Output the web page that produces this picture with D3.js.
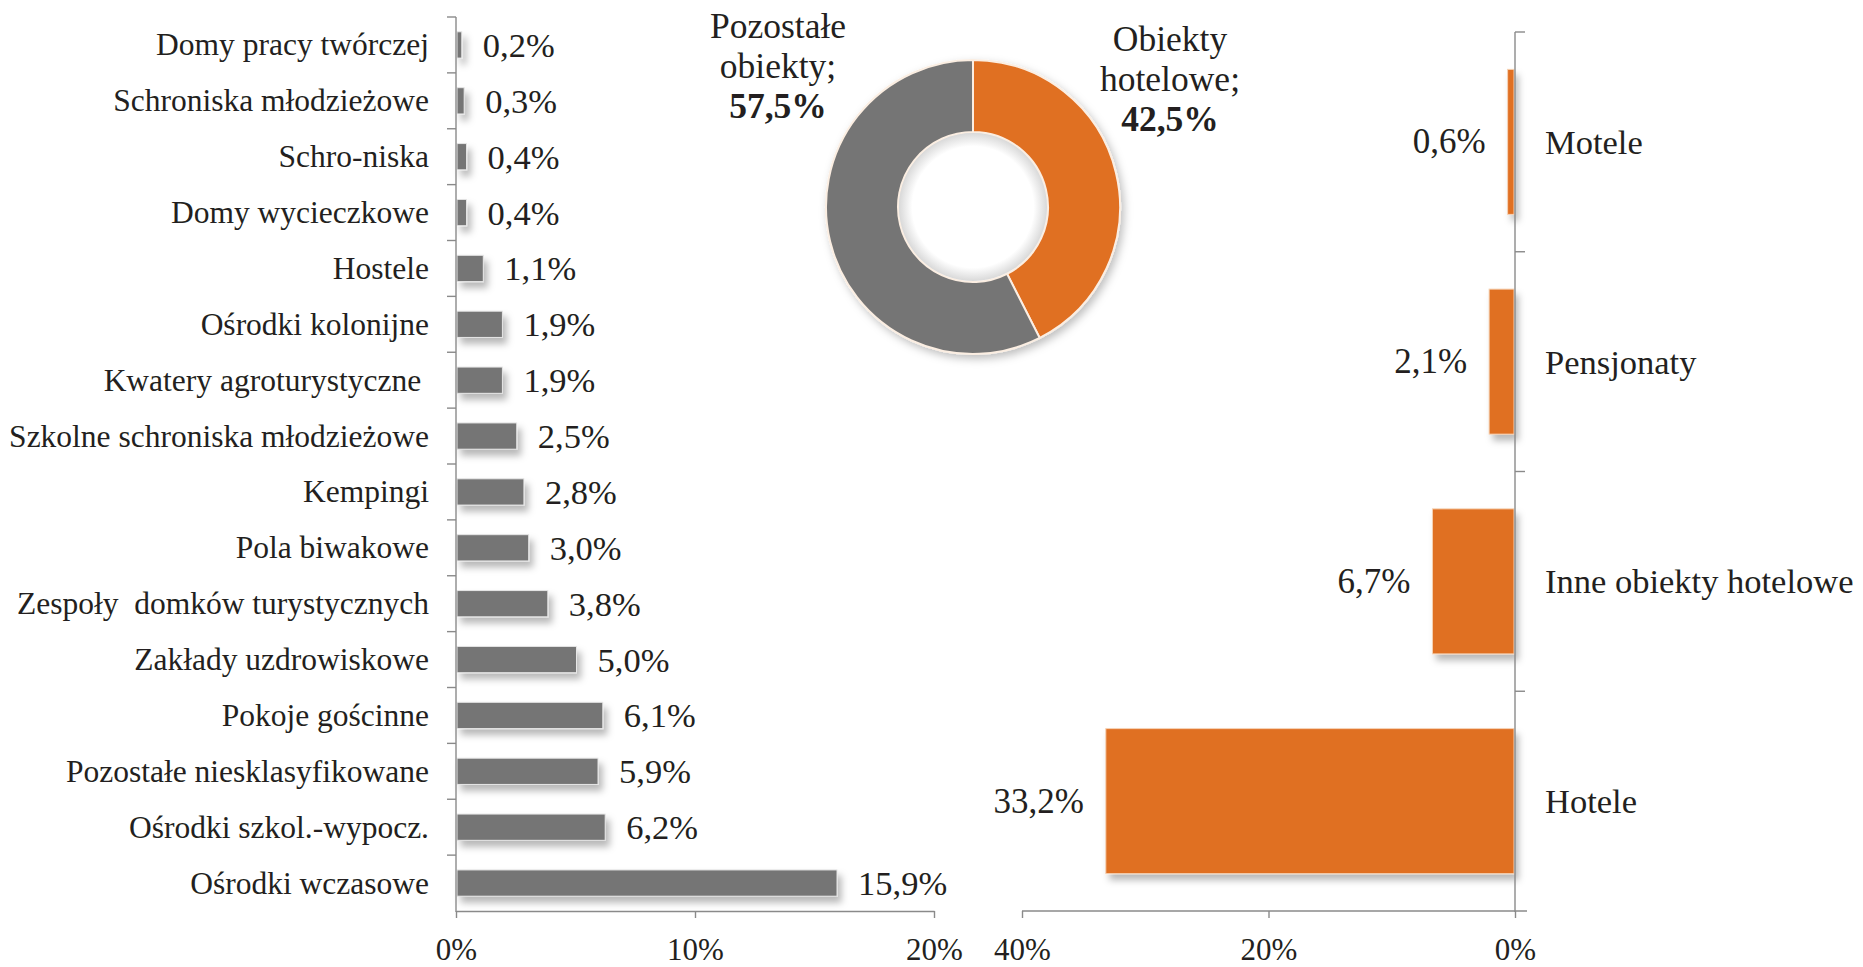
<!DOCTYPE html>
<html>
<head>
<meta charset="utf-8">
<title>Struktura obiektów noclegowych</title>
<script src="https://cdn.jsdelivr.net/npm/d3@7"></script>
<style>
  html, body { margin: 0; padding: 0; background: #ffffff; }
</style>
</head>
<body>
<svg id="chart" width="1863" height="967"></svg>
<script>
// Pozostałe obiekty (udział w %)
const otherCategories = [
  "Domy pracy twórczej", "Schroniska młodzieżowe", "Schro-niska", "Domy wycieczkowe",
  "Hostele", "Ośrodki kolonijne", "Kwatery agroturystyczne ", "Szkolne schroniska młodzieżowe",
  "Kempingi", "Pola biwakowe", "Zespoły  domków turystycznych", "Zakłady uzdrowiskowe",
  "Pokoje gościnne", "Pozostałe niesklasyfikowane", "Ośrodki szkol.-wypocz.", "Ośrodki wczasowe"
];
const otherValues = [0.2, 0.3, 0.4, 0.4, 1.1, 1.9, 1.9, 2.5, 2.8, 3.0, 3.8, 5.0, 6.1, 5.9, 6.2, 15.9];

// Obiekty hotelowe (udział w %)
const hotelCategories = ["Motele", "Pensjonaty", "Inne obiekty hotelowe", "Hotele"];
const hotelValues = [0.6, 2.1, 6.7, 33.2];

// Podział ogólny
const donutLabels = [["Obiekty", "hotelowe;"], ["Pozostałe", "obiekty;"]];
const donutValues = [42.5, 57.5];

const leftTicks = [0, 10, 20];
const rightTicks = [0, 20, 40];

const GREY = "#757575";
const ORANGE = "#e06f22";
const AXIS = "#8a8a8a";
const TEXT = "#231f20";
const FONT = "Liberation Serif";

const fmt = v => v.toFixed(1).replace(".", ",") + "%";

const svg = d3.select("#chart");

// Soft drop shadow used under bars and the ring
const defs = svg.append("defs");
const sh = defs.append("filter").attr("id", "shadow")
  .attr("x", "-20%").attr("y", "-30%").attr("width", "150%").attr("height", "180%");
sh.append("feDropShadow").attr("dx", 4).attr("dy", 6).attr("stdDeviation", 3.5)
  .attr("flood-color", "#000").attr("flood-opacity", 0.28);

const shRing = defs.append("filter").attr("id", "ringShadow")
  .attr("x", "-20%").attr("y", "-20%").attr("width", "140%").attr("height", "140%");
shRing.append("feDropShadow").attr("dx", 3).attr("dy", 4).attr("stdDeviation", 4)
  .attr("flood-color", "#000").attr("flood-opacity", 0.25);

// ---------- Left chart: other accommodation ----------
const xL = d3.scaleLinear().domain([0, 20]).range([456, 934]);
const yL = d3.scaleBand().domain(otherCategories).range([17, 911])
  .paddingInner(0.53).paddingOuter(0.265);

const left = svg.append("g");

left.append("g").attr("filter", "url(#shadow)")
  .selectAll("rect").data(otherCategories).join("rect")
  .attr("x", xL(0) + 1)
  .attr("y", d => yL(d))
  .attr("width", (d, i) => xL(otherValues[i]) - xL(0))
  .attr("height", yL.bandwidth())
  .attr("fill", GREY)
  .attr("stroke", "#e6e6e6").attr("stroke-width", 1);

// category axis: line plus ticks on the category boundaries
const stepL = yL.step();
const boundsL = d3.range(otherCategories.length + 1).map(i => 17 + i * stepL);
left.append("line").attr("x1", xL(0)).attr("x2", xL(0)).attr("y1", 17).attr("y2", 912)
  .attr("stroke", AXIS).attr("stroke-width", 1.4);
left.selectAll("line.tk").data(boundsL.slice(0, -1)).join("line").attr("class", "tk")
  .attr("x1", xL(0) - 9).attr("x2", xL(0)).attr("y1", d => d).attr("y2", d => d)
  .attr("stroke", AXIS).attr("stroke-width", 1.4);

left.selectAll("text.cat").data(otherCategories).join("text").attr("class", "cat")
  .attr("x", 429).attr("y", d => yL(d) + yL.bandwidth() / 2)
  .attr("text-anchor", "end").attr("dominant-baseline", "central")
  .style("font-family", FONT).style("font-size", "31.5px").style("white-space", "pre")
  .attr("fill", TEXT)
  .text(d => d);

left.selectAll("text.val").data(otherCategories).join("text").attr("class", "val")
  .attr("x", (d, i) => xL(otherValues[i]) + 22)
  .attr("y", d => yL(d) + yL.bandwidth() / 2)
  .attr("dominant-baseline", "central")
  .style("font-family", FONT).style("font-size", "34.5px")
  .attr("fill", TEXT)
  .text((d, i) => fmt(otherValues[i]));

const axL = left.append("g").attr("transform", "translate(0,911)")
  .call(d3.axisBottom(xL).tickValues(leftTicks).tickSize(7).tickSizeOuter(0).tickPadding(20)
    .tickFormat(d => d + "%"));
axL.attr("font-family", null);
axL.select(".domain").attr("stroke", AXIS).attr("stroke-width", 1.4);
axL.selectAll(".tick line").attr("stroke", AXIS).attr("stroke-width", 1.4);
axL.selectAll(".tick text").style("font-family", FONT).style("font-size", "31px").attr("fill", TEXT);

// ---------- Right chart: hotel accommodation ----------
const xR = d3.scaleLinear().domain([0, 40]).range([1515, 1022]);
const yR = d3.scaleBand().domain(hotelCategories).range([32, 911])
  .paddingInner(0.34).paddingOuter(0.17);

const right = svg.append("g");

right.append("g").attr("filter", "url(#shadow)")
  .selectAll("rect").data(hotelCategories).join("rect")
  .attr("x", (d, i) => xR(hotelValues[i]))
  .attr("y", d => yR(d))
  .attr("width", (d, i) => xR(0) - xR(hotelValues[i]) - 1)
  .attr("height", yR.bandwidth())
  .attr("fill", ORANGE)
  .attr("stroke", "#f6d2b4").attr("stroke-width", 1);

const stepR = yR.step();
const boundsR = d3.range(hotelCategories.length + 1).map(i => 32 + i * stepR);
right.append("line").attr("x1", xR(0)).attr("x2", xR(0)).attr("y1", 32).attr("y2", 912)
  .attr("stroke", AXIS).attr("stroke-width", 1.4);
right.selectAll("line.tk").data(boundsR.slice(0, -1)).join("line").attr("class", "tk")
  .attr("x1", xR(0)).attr("x2", xR(0) + 10).attr("y1", d => d).attr("y2", d => d)
  .attr("stroke", AXIS).attr("stroke-width", 1.4);

right.selectAll("text.cat").data(hotelCategories).join("text").attr("class", "cat")
  .attr("x", 1545).attr("y", d => yR(d) + yR.bandwidth() / 2)
  .attr("dominant-baseline", "central")
  .style("font-family", FONT).style("font-size", "34.5px")
  .attr("fill", TEXT)
  .text(d => d);

right.selectAll("text.val").data(hotelCategories).join("text").attr("class", "val")
  .attr("x", (d, i) => xR(hotelValues[i]) - 22)
  .attr("y", d => yR(d) + yR.bandwidth() / 2)
  .attr("text-anchor", "end").attr("dominant-baseline", "central")
  .style("font-family", FONT).style("font-size", "35px")
  .attr("fill", TEXT)
  .text((d, i) => fmt(hotelValues[i]));

const axR = right.append("g").attr("transform", "translate(0,911)")
  .call(d3.axisBottom(xR).tickValues(rightTicks).tickSize(7).tickSizeOuter(0).tickPadding(20)
    .tickFormat(d => d + "%"));
axR.attr("font-family", null);
axR.select(".domain").attr("stroke", AXIS).attr("stroke-width", 1.4)
  .attr("d", `M${xR(40)},0H${xR(0) + 12}`);
axR.selectAll(".tick line").attr("stroke", AXIS).attr("stroke-width", 1.4);
axR.selectAll(".tick text").style("font-family", FONT).style("font-size", "31px").attr("fill", TEXT);

// ---------- Donut: overall split ----------
const cx = 973, cy = 207, R = 147, r = 75;
const pie = d3.pie().sort(null).value(d => d);
const arc = d3.arc().innerRadius(r).outerRadius(R);
const donut = svg.append("g").attr("transform", `translate(${cx},${cy})`);
donut.append("g").attr("filter", "url(#ringShadow)")
  .selectAll("path").data(pie(donutValues)).join("path")
  .attr("d", arc)
  .attr("fill", (d, i) => i === 0 ? ORANGE : GREY)
  .attr("stroke", "#fbeee2").attr("stroke-width", 2);

// faint shading inside the hole
const hole = defs.append("radialGradient").attr("id", "hole");
hole.append("stop").attr("offset", "0.82").attr("stop-color", "#ffffff");
hole.append("stop").attr("offset", "1").attr("stop-color", "#d9d9d9");
donut.append("circle").attr("r", r - 1).attr("fill", "url(#hole)");

// donut labels
const donutPos = [[1170, 39], [778, 26]];
donutLabels.forEach((lines, i) => {
  const t = svg.append("text").attr("text-anchor", "middle")
    .style("font-family", FONT).style("font-size", "35.5px").attr("fill", TEXT);
  lines.forEach((ln, j) => {
    t.append("tspan").attr("x", donutPos[i][0]).attr("y", donutPos[i][1] + j * 40)
      .attr("dominant-baseline", "central").text(ln);
  });
  t.append("tspan").attr("x", donutPos[i][0]).attr("y", donutPos[i][1] + 2 * 40)
    .attr("dominant-baseline", "central").attr("font-weight", "bold").text(fmt(donutValues[i]));
});
</script>
</body>
</html>
